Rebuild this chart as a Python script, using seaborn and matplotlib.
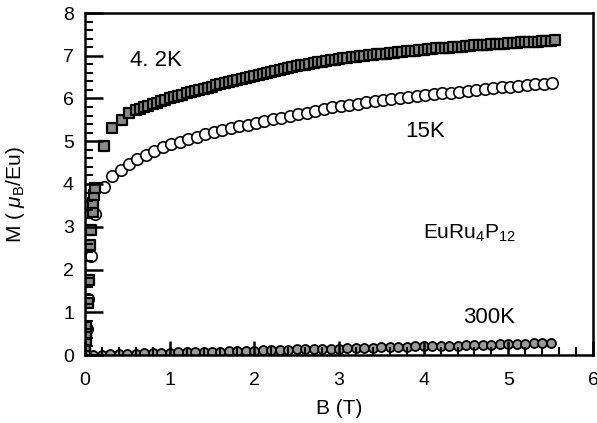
import matplotlib
matplotlib.use("Agg")
import matplotlib.pyplot as plt
from matplotlib.ticker import MultipleLocator
import seaborn as sns

# Magnetization curves of EuRu4P12: field B (T) vs moment M (muB/Eu)
b_4K = [0.0, 0.005, 0.01, 0.01, 0.015, 0.035, 0.047, 0.06, 0.065, 0.09, 0.10, 0.11, 0.12,
        0.22, 0.32, 0.44, 0.52, 0.60, 0.65,
        0.70, 0.75, 0.80, 0.85, 0.90, 0.95, 1.00, 1.05, 1.10, 1.15, 1.20, 1.25, 1.30, 1.35,
        1.40, 1.45, 1.50, 1.55, 1.60, 1.65, 1.70, 1.75, 1.80, 1.85, 1.90, 1.95, 2.00, 2.05,
        2.10, 2.15, 2.20, 2.25, 2.30, 2.35, 2.40, 2.45, 2.50, 2.55, 2.60, 2.65, 2.70, 2.75,
        2.80, 2.85, 2.90, 2.95, 3.00, 3.05, 3.10, 3.15, 3.20, 3.25, 3.30, 3.35, 3.40, 3.45,
        3.50, 3.55, 3.60, 3.65, 3.70, 3.75, 3.80, 3.85, 3.90, 3.95, 4.00, 4.05, 4.10, 4.15,
        4.20, 4.25, 4.30, 4.35, 4.40, 4.45, 4.50, 4.55, 4.60, 4.65, 4.70, 4.75, 4.80, 4.85,
        4.90, 4.95, 5.00, 5.05, 5.10, 5.15, 5.20, 5.25, 5.30, 5.35, 5.40, 5.45, 5.50, 5.55]
m_4K = [0.05, 0.20, 0.35, 0.50, 0.65, 1.22, 1.76, 2.58, 2.93, 3.35, 3.55, 3.75, 3.90,
        4.90, 5.30, 5.50, 5.66, 5.72, 5.76,
        5.80, 5.83, 5.87, 5.90, 5.94, 5.97, 6.00, 6.03, 6.06, 6.09, 6.12, 6.15, 6.17, 6.20,
        6.23, 6.25, 6.28, 6.31, 6.33, 6.36, 6.38, 6.41, 6.43, 6.46, 6.48, 6.51, 6.53, 6.56,
        6.58, 6.60, 6.63, 6.65, 6.67, 6.70, 6.72, 6.74, 6.76, 6.78, 6.79, 6.81, 6.83, 6.85,
        6.86, 6.88, 6.89, 6.91, 6.92, 6.94, 6.95, 6.96, 6.97, 6.99, 7.00, 7.01, 7.02, 7.03,
        7.04, 7.05, 7.06, 7.07, 7.08, 7.09, 7.10, 7.11, 7.12, 7.13, 7.14, 7.15, 7.16, 7.17,
        7.18, 7.18, 7.19, 7.20, 7.21, 7.21, 7.22, 7.23, 7.24, 7.24, 7.25, 7.26, 7.27, 7.27,
        7.28, 7.28, 7.29, 7.29, 7.30, 7.31, 7.32, 7.32, 7.33, 7.33, 7.34, 7.34, 7.35, 7.36]

b_15K = [0.0, 0.02, 0.04, 0.07, 0.12,
         0.22, 0.32, 0.42, 0.52, 0.62, 0.72, 0.82, 0.92, 1.02, 1.12, 1.22, 1.32, 1.42, 1.52,
         1.62, 1.72, 1.82, 1.92, 2.02, 2.12, 2.22, 2.32, 2.42, 2.52, 2.62, 2.72, 2.82, 2.92,
         3.02, 3.12, 3.22, 3.32, 3.42, 3.52, 3.62, 3.72, 3.82, 3.92, 4.02, 4.12, 4.22, 4.32,
         4.42, 4.52, 4.62, 4.72, 4.82, 4.92, 5.02, 5.12, 5.22, 5.32, 5.42, 5.52]
m_15K = [0.0, 0.60, 1.30, 2.32, 3.29,
         3.92, 4.18, 4.32, 4.46, 4.58, 4.67, 4.77, 4.86, 4.93, 4.99, 5.05, 5.11, 5.16, 5.21,
         5.26, 5.31, 5.35, 5.39, 5.43, 5.47, 5.51, 5.55, 5.59, 5.63, 5.67, 5.71, 5.75, 5.79,
         5.82, 5.85, 5.88, 5.91, 5.94, 5.97, 5.99, 6.02, 6.04, 6.06, 6.08, 6.10, 6.12, 6.14,
         6.16, 6.18, 6.20, 6.22, 6.24, 6.26, 6.27, 6.29, 6.31, 6.33, 6.35, 6.37]

b_300K = [0.0, 0.1, 0.2, 0.3, 0.4, 0.5, 0.6, 0.7, 0.8, 0.9, 1.0, 1.1, 1.2, 1.3, 1.4, 1.5,
          1.6, 1.7, 1.8, 1.9, 2.0, 2.1, 2.2, 2.3, 2.4, 2.5, 2.6, 2.7, 2.8, 2.9, 3.0, 3.1,
          3.2, 3.3, 3.4, 3.5, 3.6, 3.7, 3.8, 3.9, 4.0, 4.1, 4.2, 4.3, 4.4, 4.5, 4.6, 4.7,
          4.8, 4.9, 5.0, 5.1, 5.2, 5.3, 5.4, 5.5]
m_300K = [0.00, 0.01, 0.01, 0.02, 0.02, 0.03, 0.03, 0.04, 0.04, 0.05, 0.05, 0.06, 0.06,
          0.07, 0.07, 0.08, 0.08, 0.09, 0.09, 0.10, 0.10, 0.11, 0.11, 0.12, 0.12, 0.13,
          0.13, 0.14, 0.14, 0.15, 0.15, 0.16, 0.16, 0.17, 0.17, 0.18, 0.18, 0.19, 0.19,
          0.20, 0.20, 0.21, 0.21, 0.22, 0.22, 0.23, 0.23, 0.24, 0.24, 0.25, 0.25, 0.26,
          0.26, 0.27, 0.27, 0.28]

x_ticks = [0, 1, 2, 3, 4, 5, 6]
y_ticks = [0, 1, 2, 3, 4, 5, 6, 7, 8]

sns.set_style("ticks", {"xtick.direction": "in", "ytick.direction": "in",
                        "xtick.color": "black", "ytick.color": "black",
                        "text.color": "black", "axes.labelcolor": "black",
                        "axes.edgecolor": "black", "axes.axisbelow": False})
plt.rcParams["font.family"] = ["Liberation Sans", "DejaVu Sans"]
plt.rcParams["mathtext.fontset"] = "custom"
plt.rcParams["mathtext.rm"] = "Liberation Sans"
plt.rcParams["mathtext.it"] = "Liberation Sans:italic"

fig = plt.figure(figsize=(5.97, 4.23), dpi=100)
ax = fig.add_axes([85 / 597, 1 - 355 / 423, 508 / 597, 342 / 423])
ax.set_axisbelow(False)

sns.scatterplot(x=b_300K, y=m_300K, ax=ax, marker="o", s=42, color="#9a9a9a",
                edgecolor="black", linewidth=1.3, zorder=1.5)
sns.scatterplot(x=b_15K, y=m_15K, ax=ax, marker="o", s=68, color="white",
                edgecolor="black", linewidth=1.2, zorder=1.6)
sns.scatterplot(x=b_4K, y=m_4K, ax=ax, marker="s", s=60, color="#8a8a8a",
                edgecolor="black", linewidth=1.6, zorder=1.7)

ax.set_xlim(0, 6)
ax.set_ylim(0, 8)
ax.set_xticks(x_ticks)
ax.set_yticks(y_ticks)
ax.xaxis.set_minor_locator(MultipleLocator(0.2))
ax.yaxis.set_minor_locator(MultipleLocator(0.2))
ax.tick_params(axis="y", which="major", direction="in", color="black",
               labelsize=14, left=True, length=13, width=1.8, pad=8)
ax.tick_params(axis="y", which="minor", direction="in", color="black", left=True,
               length=6, width=1.5)
ax.tick_params(axis="x", which="major", direction="in", color="black",
               labelsize=14, bottom=True, length=10, width=1.8, pad=12)
ax.tick_params(axis="x", which="minor", direction="in", color="black", bottom=True,
               length=6, width=1.5)
for side in ["left", "right", "top", "bottom"]:
    ax.spines[side].set_linewidth(1.8)

ax.set_xlabel("B (T)", fontsize=15)
ax.xaxis.set_label_coords(0.5, -0.13)
ax.set_ylabel(r"M ( $\mu$$_{\rm B}$/Eu)", fontsize=15)
ax.yaxis.set_label_coords(-0.115, 0.47)

ax.text(0.53, 6.88, "4. 2K", fontsize=16, va="center", ha="left")
ax.text(3.78, 5.23, "15K", fontsize=16, va="center", ha="left")
ax.text(3.99, 2.85, r"EuRu$_4$P$_{12}$", fontsize=15, va="center", ha="left")
ax.text(4.46, 0.87, "300K", fontsize=16, va="center", ha="left")

fig.savefig("out.png", dpi=100)
